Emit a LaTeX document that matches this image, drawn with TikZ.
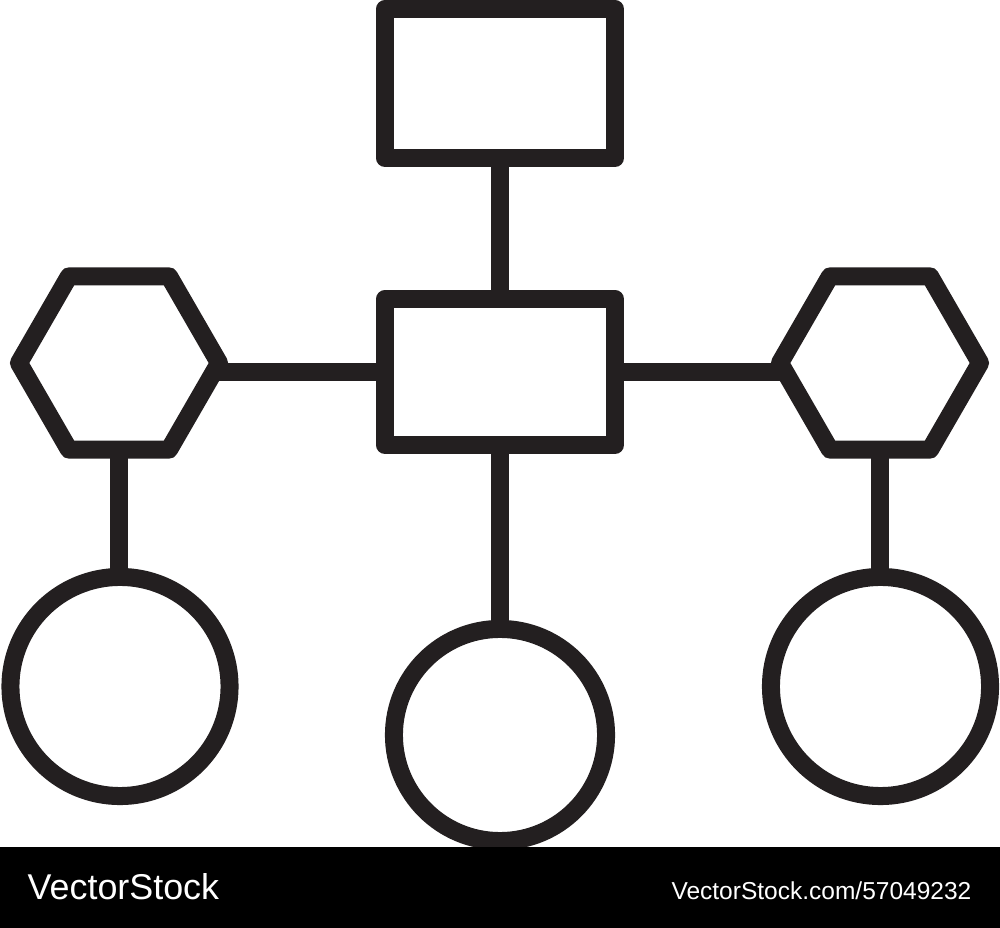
\documentclass[tikz,border=0pt]{standalone}
\usepackage{fontspec}
\setmainfont{Liberation Sans}
\usetikzlibrary{shapes.geometric}
\definecolor{ink}{HTML}{231F20}
\tikzstyle{box}=[rectangle,draw=ink,line width=0.18cm,minimum width=2.3cm,inner sep=0pt,outer sep=0pt]
\tikzstyle{hexa}=[regular polygon,regular polygon sides=6,draw=ink,line width=0.18cm,minimum size=2cm,inner sep=0pt,outer sep=0pt]
\tikzstyle{disc}=[circle,draw=ink,line width=0.18cm,inner sep=0pt,outer sep=0pt]
\tikzstyle{link}=[draw=ink,line width=0.18cm]
\tikzstyle{mark text}=[text=white,inner sep=0pt]

\begin{document}
\begin{tikzpicture}[x=0.01cm,y=-0.01cm,line join=round]
	\useasboundingbox (0,0) rectangle (1000,928);
	% boxes and hexagons
	\node[box,minimum height=1.49cm] (top) at (500,83.5) {};
	\node[box,minimum height=1.46cm] (mid) at (500,372) {};
	\node[hexa] (hexL) at (119,363) {};
	\node[hexa] (hexR) at (880,363) {};
	% circles
	\node[disc,minimum size=2.19cm] (circL) at (120,686.5) {};
	\node[disc,minimum size=2.12cm] (circM) at (500,735) {};
	\node[disc,minimum size=2.19cm] (circR) at (880.5,686.5) {};
	% vertical links
	\foreach \source/\dest in {top/mid,mid/circM,hexL/circL,hexR/circR}
		\path[link] (\source.south) -- (\source.south |- \dest.north);
	% horizontal links
	\foreach \hex/\side/\tip in {hexL/west/east,hexR/east/west}
		\path[link] (mid.\side) -- (\hex.\tip |- mid.\side);
	% footer bar
	\fill[black] (0,847) rectangle (1000,928);
	\node[mark text,anchor=base west,font=\fontsize{10.2pt}{12pt}\selectfont] (brand) at (27,899) {VectorStock};
	\node[mark text,anchor=base east,font=\fontsize{6.97pt}{8pt}\selectfont] (ref) at (972,899) {VectorStock.com/57049232};
\end{tikzpicture}
\end{document}
